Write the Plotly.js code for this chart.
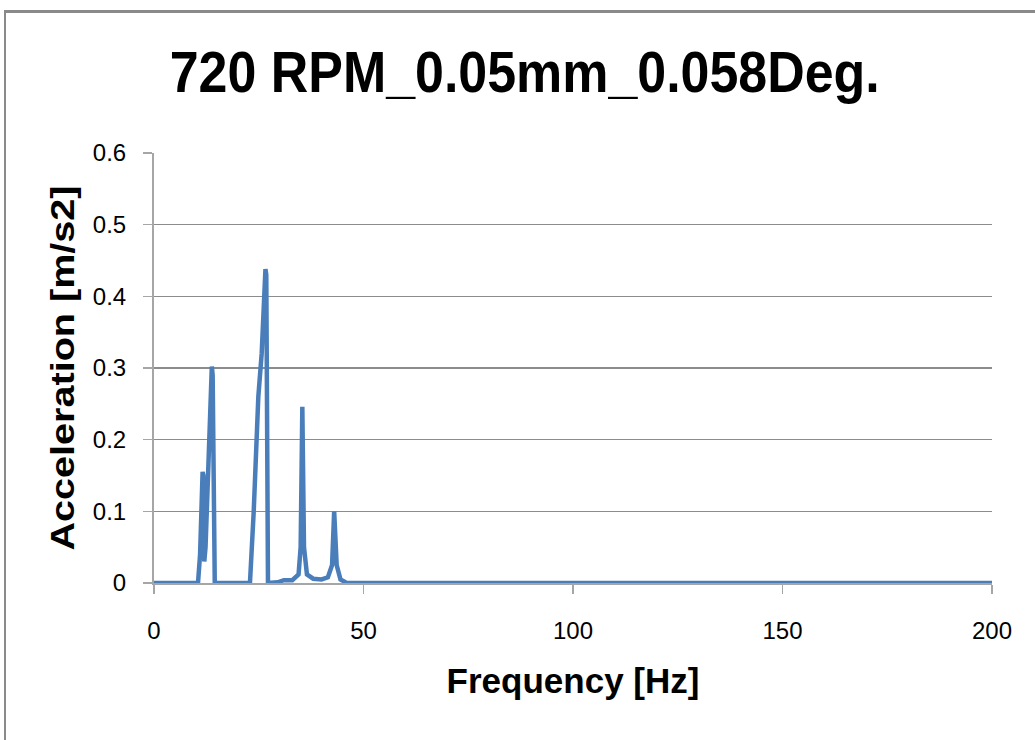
<!DOCTYPE html>
<html>
<head>
<meta charset="utf-8">
<script src="https://cdn.plot.ly/plotly-3.0.1.min.js"></script>
<style>
  html, body { margin: 0; padding: 0; background: #ffffff; }
  #wrap { position: relative; width: 1035px; height: 740px; overflow: hidden; }
  #chart { position: absolute; left: 0; top: 0; width: 1035px; height: 740px; }
  #frame { position: absolute; left: 4px; top: 10px; width: 1100px; height: 800px;
           border-top: 3px solid #8a8a8a; border-left: 2px solid #8a8a8a; pointer-events: none; }
</style>
</head>
<body>
<div id="wrap">
  <div id="chart"></div>
  <div id="frame"></div>
</div>
<script>
// Spectrum of the measured acceleration signal
const frequency = [0, 10.5, 11.0, 11.6, 11.8, 12.0, 12.3, 13.8, 14.0, 14.5,
  22.9, 23.8, 24.9, 25.7, 26.6, 26.8, 27.2,
  29.5, 31.0, 33.0, 34.5, 35.0, 35.4, 35.8, 36.5, 38.0, 40.0, 41.5, 42.5, 43.0, 43.6, 44.5, 46.0, 200];
const acceleration = [0, 0, 0.04, 0.155, 0.15, 0.03, 0.05, 0.302, 0.29, 0,
  0, 0.1, 0.26, 0.32, 0.438, 0.43, 0,
  0.001, 0.004, 0.004, 0.012, 0.05, 0.246, 0.05, 0.012, 0.006, 0.005, 0.008, 0.025, 0.1, 0.025, 0.005, 0, 0];

const xTicks = [0, 50, 100, 150, 200];
const yTicks = [0, 0.1, 0.2, 0.3, 0.4, 0.5, 0.6];
const yTickText = ["0", "0.1", "0.2", "0.3", "0.4", "0.5", "0.6"];

const font = "'Liberation Sans', Arial, sans-serif";

// condensed widths of the bold headings, in px
const titleWidth = 710;
const yTitleHeight = 365;

Plotly.newPlot("chart", [{
  x: frequency,
  y: acceleration,
  type: "scatter",
  mode: "lines",
  line: { color: "#4a7ebb", width: 4.5 },
  hoverinfo: "x+y"
}], {
  width: 1035,
  height: 740,
  margin: { l: 154, r: 43, t: 153, b: 157 },
  paper_bgcolor: "#ffffff",
  plot_bgcolor: "#ffffff",
  showlegend: false,
  title: {
    text: "<b>720 RPM_0.05mm_0.058Deg.</b>",
    font: { family: font, size: 58, color: "#000000" },
    x: 0.507, xanchor: "center",
    y: 0.903, yanchor: "middle"
  },
  xaxis: {
    range: [0, 200],
    tickvals: xTicks,
    ticktext: xTicks.map(String),
    showgrid: false,
    zeroline: false,
    showline: true,
    linecolor: "#a6a6a6",
    linewidth: 2,
    ticks: "outside",
    ticklen: 9,
    tickwidth: 1.5,
    tickcolor: "#a6a6a6",
    ticklabelstandoff: 16,
    tickfont: { family: font, size: 24, color: "#000000" },
    title: { text: "<b>Frequency [Hz]</b>", font: { family: font, size: 35, color: "#000000" }, standoff: 26 }
  },
  yaxis: {
    range: [0, 0.6],
    tickvals: yTicks,
    ticktext: yTickText,
    showgrid: true,
    gridcolor: "#8c8c8c",
    gridwidth: 1.5,
    zeroline: false,
    showline: true,
    linecolor: "#a6a6a6",
    linewidth: 2,
    ticks: "outside",
    ticklen: 9,
    tickwidth: 1.5,
    tickcolor: "#a6a6a6",
    ticklabelstandoff: 12,
    tickfont: { family: font, size: 24, color: "#000000" },
    title: { text: "<b>Acceleration [m/s2]</b>", font: { family: font, size: 33, color: "#000000" }, standoff: 8 }
  }
}, { displayModeBar: false, staticPlot: true }).then(function (gd) {
  // squeeze the bold headings to their condensed widths
  const squeeze = function (sel, len) {
    const t = gd.querySelector(sel);
    if (t) {
      t.setAttribute("textLength", len);
      t.setAttribute("lengthAdjust", "spacingAndGlyphs");
    }
  };
  squeeze(".gtitle", titleWidth);
  squeeze(".ytitle", yTitleHeight);
});
</script>
</body>
</html>
